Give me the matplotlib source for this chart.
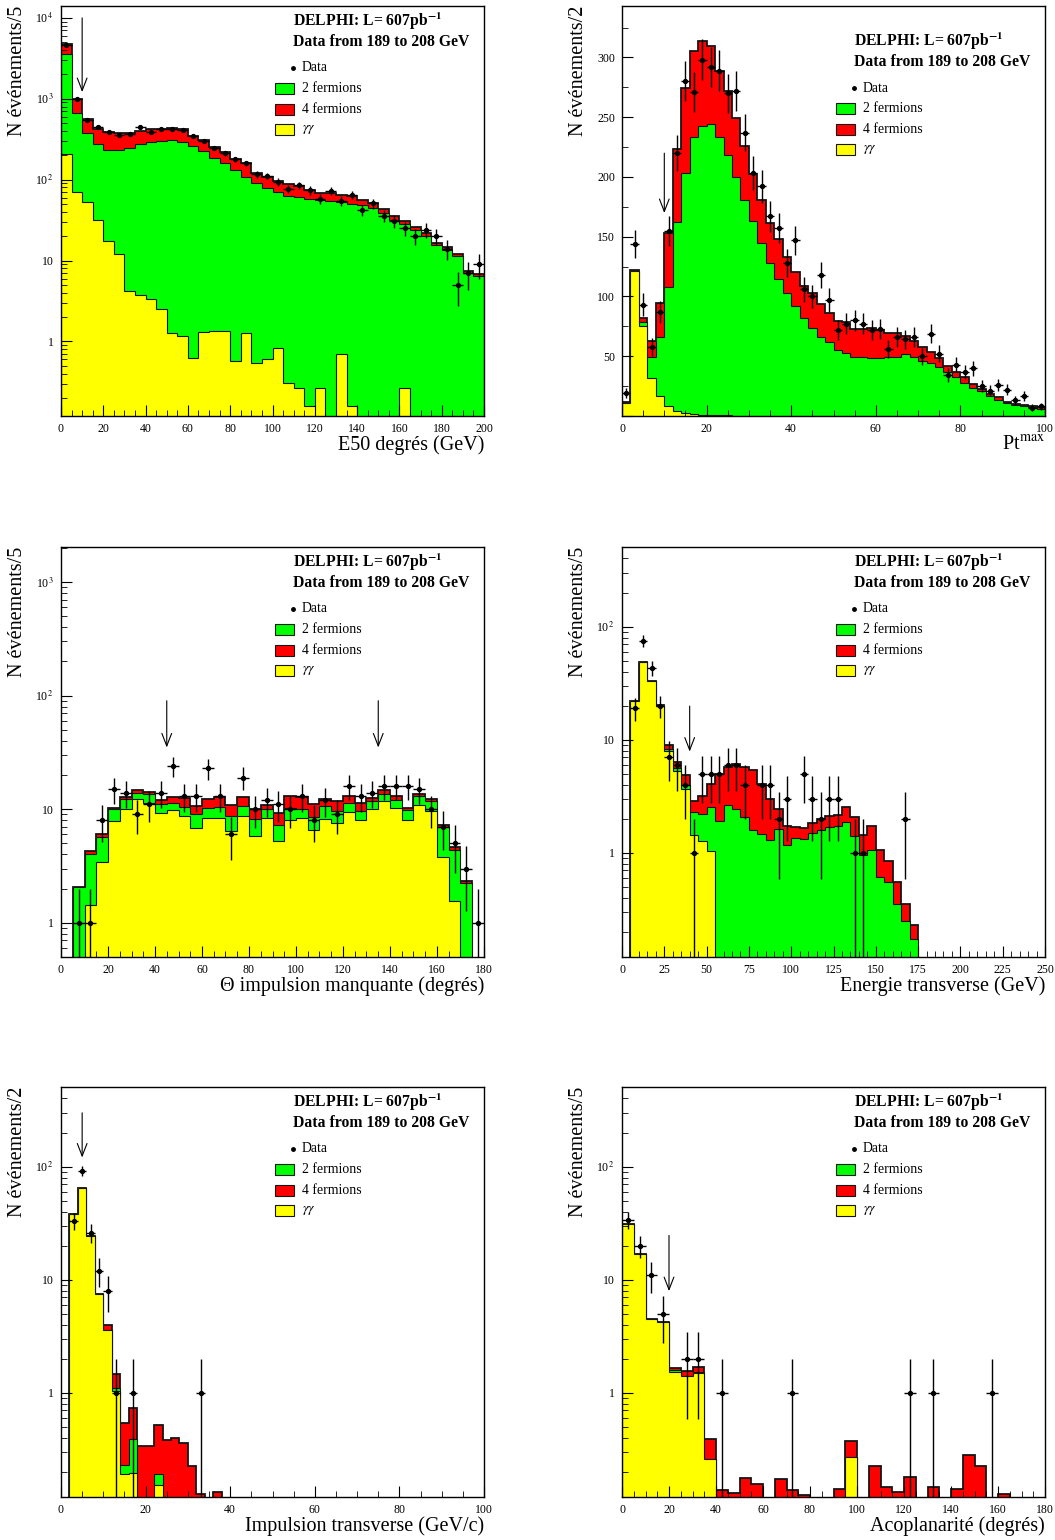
import numpy as np
import matplotlib
matplotlib.use("Agg")
import matplotlib.pyplot as plt
from matplotlib.patches import Rectangle
from matplotlib.ticker import MultipleLocator, LogLocator, FuncFormatter, NullFormatter

plt.rcParams["font.family"] = ["Liberation Serif", "DejaVu Serif"]
plt.rcParams["mathtext.fontset"] = "stix"

GREEN, RED, YELLOW = "#00ff00", "#ff0000", "#ffff00"

# --- E50 degres (bins of 5 GeV, 0-200) : cumulative levels yy, yy+2f, total
e50_yy = [205, 70, 53, 31.5, 17.3, 12.1, 4.2, 3.77, 3.33, 2.55, 1.27, 1.17, 0.634, 1.30, 1.33,
          1.34, 0.577, 1.27, 0.54, 0.605, 0.82, 0.306, 0.27, 0.158, 0.27, 0, 0.70, 0.158, 0, 0,
          0, 0, 0.27, 0, 0, 0, 0, 0, 0, 0]
e50_2f = [3525, 671, 373, 273, 230, 230, 244, 273, 289, 303, 309, 294, 260, 226, 186, 161, 131,
          109, 90, 79.5, 70, 63, 61.7, 57, 56, 54.5, 53, 50.5, 48.7, 44.3, 38.4, 31.8, 28.1, 23.9,
          20.2, 15.6, 13.5, 11.4, 7.0, 6.5]
e50_tot = [4700, 980, 566, 418, 391, 373, 373, 399, 418, 426, 430, 418, 349, 309, 255, 220, 182,
           159, 122, 109, 97, 88, 83.5, 74.5, 69, 67.8, 64.6, 62.8, 56, 52, 43, 35.6, 31.2, 25.8,
           21.7, 16.7, 14.6, 12.1, 7.5, 6.8]
e50_data = [4600, 1000, 550, 450, 384, 356, 366, 443, 391, 418, 418, 409, 345, 300, 248, 211,
            178, 159, 117, 111, 94, 77, 85, 74, 58, 73, 55, 65, 42, 51, 36, 31, 25, 20, 24, 20,
            14, 5, 7, 9]

# --- Pt max (bins of 2, 0-100)
pt_yy = [11, 121.5, 75.3, 31.6, 17.1, 8, 3.8, 2.4, 1.6, 1.0, 0.8, 0.6, 0.5, 0.4, 0.3, 0.3, 0.2,
         0.2, 0.2, 0.1] + [0] * 30
pt_2f = [11, 121.5, 79, 49.7, 65.9, 107.6, 162, 203, 233.4, 242.3, 244, 233.4, 218, 200, 181,
         163, 145, 128, 115, 103, 92, 81.7, 73.4, 66.4, 61.7, 54.8, 53, 49.7, 49.7, 48.9, 48.9,
         49.2, 49.7, 52, 49.2, 46.4, 44.2, 40.6, 36.4, 32.5, 27.5, 23.3, 20.5, 16.9, 13.6, 10.8,
         9.4, 8.6, 7.2, 6]
pt_tot = [11.3, 122, 81.8, 62.5, 94.3, 153, 223, 274.5, 305.4, 313.5, 309.6, 289, 272.3, 249.5,
          225.9, 202.2, 180.5, 161.6, 147.7, 132.7, 120.8, 109, 102.6, 93.4, 85.9, 79.8, 79,
          72.6, 72.8, 73.4, 72, 69.8, 69.8, 67, 62.8, 58, 53.9, 48.4, 42, 37.2, 32.5, 27, 22.5,
          18.5, 15.5, 12.1, 10.2, 9.4, 8, 7.4]
pt_data = [19, 144, 93, 58, 87, 155, 220, 280, 271, 298, 292, 289, 270, 272, 237, 203, 192, 167,
           157, 128, 147, 106, 100, 118, 97, 72, 77, 80, 77, 72, 73, 56, 66, 64, 66, 50, 69, 52,
           34, 43, 37, 40, 25, 21, 26, 22, 13, 17, 7, 8]

# --- Theta impulsion manquante (bins of 5 deg, 0-180)
th_yy = [0, 0, 1.43, 3.44, 7.9, 10.0, 12.2, 11.4, 9.3, 9.9, 8.7, 6.8, 8.4, 8.3, 6.4, 8.7, 5.8,
         8.4, 5.3, 8.1, 8.3, 6.6, 8.2, 7.6, 9.5, 8.1, 10.0, 11.8, 10.3, 8.1, 10.9, 9.6, 3.8, 1.56,
         0, 0]
th_2f = [0, 2.05, 4.0, 5.7, 10.0, 12.2, 14.0, 13.5, 11.0, 11.3, 10.5, 9.0, 10.3, 10.5, 8.7, 10.6,
         8.2, 10.0, 7.3, 10.3, 10.0, 8.5, 10.6, 9.6, 11.3, 9.6, 11.8, 13.5, 12.0, 9.8, 13.1, 11.8,
         6.9, 4.4, 2.26, 0]
th_tot = [0, 2.05, 4.3, 6.0, 10.3, 12.8, 14.7, 14.2, 12.0, 12.8, 12.5, 10.7, 12.2, 12.8, 10.8,
          12.8, 10.0, 10.8, 9.3, 13.1, 12.8, 11.2, 12.4, 11.7, 13.1, 11.4, 12.6, 14.7, 13.1, 10.2,
          13.5, 12.4, 7.2, 4.6, 2.34, 0]
th_data = [0, 1, 1, 8, 15, 14, 9, 11, 14, 24, 13, 13, 23, 13, 6, 19, 10, 12, 11, 10, 13, 8, 12,
           9, 16, 13, 14, 16, 16, 16, 15, 10, 7, 5, 3, 1]

# --- Energie transverse (bins of 5 GeV, 0-250)
et_yy = [0, 21.8, 49, 33, 19.7, 7.9, 5.3, 3.7, 1.44, 1.28, 1.03] + [0] * 39
et_2f = [0, 21.8, 49, 33, 19.9, 8.3, 5.6, 4.0, 2.28, 2.2, 2.53, 1.93, 2.67, 2.44, 2.06, 1.6,
         1.47, 1.3, 1.63, 1.18, 1.35, 1.33, 1.49, 1.6, 1.68, 1.71, 1.87, 1.42, 0.95, 1.07, 0.61,
         0.55, 0.35, 0.248, 0.174] + [0] * 15
et_tot = [0, 21.8, 49, 33, 20.2, 9.0, 6.3, 4.9, 2.9, 3.2, 4.06, 5.0, 5.7, 6.1, 5.7, 5.4, 4.06,
          3.0, 2.44, 1.73, 1.68, 1.66, 1.83, 2.0, 2.13, 2.16, 2.56, 2.06, 1.45, 1.74, 1.05, 0.84,
          0.55, 0.35, 0.229] + [0] * 15
et_data = [0, 19, 75, 43, 20, 7, 6, 4, 1, 5, 5, 5, 6, 6, 4, 0, 4, 4, 2, 3, 0, 5, 3, 2, 3, 3, 0,
           1, 1, 0, 0, 0, 0, 2] + [0] * 16

# --- Impulsion transverse (bins of 2 GeV/c, 0-100)
ip_yy = [0, 37.7, 65, 24.3, 7.5, 3.6, 1.03, 0.193, 0.194, 0, 0, 0.154] + [0] * 38
ip_2f = [0, 37.7, 65, 24.3, 7.5, 3.6, 1.1, 0.23, 0.39, 0, 0, 0.19] + [0] * 38
ip_tot = [0, 37.7, 65, 24.3, 7.5, 4.0, 1.46, 0.54, 0.73, 0.336, 0.336, 0.52, 0.385, 0.40, 0.36,
          0.224, 0.128, 0, 0.133] + [0] * 31
ip_data = [0, 33, 92, 26, 12, 8, 1, 0, 1, 0, 0, 0, 0, 0, 0, 0, 1] + [0] * 33

# --- Acoplanarite (bins of 5 deg, 0-180)
ac_yy = [31, 16.8, 4.5, 4.23, 1.52, 1.40, 1.50, 0.258, 0, 0, 0, 0, 0, 0, 0, 0, 0, 0, 0, 0.27,
         0, 0, 0, 0, 0, 0, 0, 0, 0, 0, 0, 0, 0, 0, 0, 0]
ac_2f = [31, 16.8, 4.5, 4.23, 1.58, 1.42, 1.52, 0.258, 0, 0, 0, 0, 0, 0, 0, 0, 0, 0, 0, 0.27,
         0, 0, 0, 0, 0, 0, 0, 0, 0, 0, 0, 0, 0, 0, 0, 0]
ac_tot = [31, 16.8, 4.5, 4.23, 1.66, 1.57, 1.68, 0.393, 0.138, 0.131, 0.178, 0.155, 0, 0.174,
          0.138, 0.125, 0, 0, 0.142, 0.375, 0, 0.225, 0.148, 0.133, 0.181, 0, 0.148, 0, 0.142,
          0.28, 0.225, 0, 0.127, 0, 0, 0]
ac_data = [34, 20, 11, 5, 0, 2, 2, 0, 1, 0, 0, 0, 0, 0, 1, 0, 0, 0, 0, 0, 0, 0, 0, 0, 1, 0, 1,
           0, 0, 0, 0, 1, 0, 0, 0, 0]

LEGEND_LABELS = ["2 fermions", "4 fermions", r"$\gamma\gamma$"]


def log_fmt(v, _):
    if v < 0.5:
        return ""
    if abs(v - 1) < 1e-6:
        return "1"
    if abs(v - 10) < 1e-6:
        return "10"
    return r"10$^{\,%d}$" % int(round(np.log10(v)))


def panel(ax, xmax, width, yy, y2f, tot, data, xlabel, ylabel, cuts, cut_y,
          ylim, log=True, xmaj=20, xmin=5, leg_dy=0.0):
    edges = np.arange(0, xmax + width / 2, width)
    base = 1e-4 if log else 0.0
    for vals, col, lw in ((tot, RED, 1.3), (y2f, GREEN, 0.8), (yy, YELLOW, 0.8)):
        v = np.asarray(vals, float)
        v = np.where(v > 0, v, base)
        ax.stairs(v, edges, baseline=base, fill=True, facecolor=col, edgecolor="none")
        ax.stairs(v, edges, baseline=base, color="#151515", lw=lw)

    d = np.asarray(data, float)
    c = edges[:-1] + width / 2
    m = d > 0
    err = np.sqrt(d[m])
    lo = np.minimum(err, d[m] * 0.9999) if log else err
    ax.errorbar(c[m], d[m], xerr=width / 2, yerr=[lo, err], fmt="o", ms=2.8, color="black",
                elinewidth=1.0, capsize=0, zorder=5)

    if log:
        ax.set_yscale("log")
        ax.yaxis.set_major_locator(LogLocator(base=10))
        ax.yaxis.set_minor_locator(LogLocator(base=10, subs=np.arange(2, 10)))
        ax.yaxis.set_minor_formatter(NullFormatter())
        ax.yaxis.set_major_formatter(FuncFormatter(log_fmt))
    else:
        ax.yaxis.set_major_locator(MultipleLocator(50))
        ax.yaxis.set_minor_locator(MultipleLocator(25))
        ax.yaxis.set_major_formatter(FuncFormatter(lambda v, _: "" if v <= 0 else "%d" % v))
    ax.set_xlim(0, xmax)
    ax.set_ylim(*ylim)
    ax.xaxis.set_major_locator(MultipleLocator(xmaj))
    ax.xaxis.set_minor_locator(MultipleLocator(xmin))
    ax.tick_params(which="both", direction="in", top=False, right=False, labelsize=8.5)
    ax.tick_params(which="major", length=8, pad=5)
    ax.tick_params(which="minor", length=4)
    for s in ax.spines.values():
        s.set_linewidth(1.0)

    ax.text(1.0, -0.072, xlabel, transform=ax.transAxes, ha="right", va="center", fontsize=14.5)
    ax.text(-0.102, 1.0, ylabel, transform=ax.transAxes, rotation=90, ha="center", va="top",
            fontsize=14.5)

    tr = ax.get_xaxis_transform()
    for x in cuts:
        ax.annotate("", xy=(x, cut_y[1]), xytext=(x, cut_y[0]), xycoords=tr, textcoords=tr,
                    arrowprops=dict(arrowstyle="->,head_length=0.9,head_width=0.35", lw=0.8,
                                    color="black", shrinkA=0, shrinkB=0))

    t = ax.transAxes
    ax.text(0.548, 0.962 - leg_dy, r"DELPHI: L= 607pb$^{\mathbf{-1}}$", transform=t,
            fontsize=11.3, fontweight="bold", va="center")
    ax.text(0.548, 0.913 - leg_dy, "Data from 189 to 208 GeV", transform=t, fontsize=11.3,
            fontweight="bold", va="center")
    ax.plot([0.549], [0.849 - leg_dy], "o", ms=2.5, color="black", transform=t)
    ax.text(0.570, 0.849 - leg_dy, "Data", transform=t, fontsize=9.9, va="center")
    for k, (col, lab) in enumerate(zip((GREEN, RED, YELLOW), LEGEND_LABELS)):
        yc = 0.799 - 0.0505 * k - leg_dy
        ax.add_patch(Rectangle((0.506, yc - 0.0135), 0.045, 0.027, transform=t,
                               facecolor=col, edgecolor="#151515", lw=0.8))
        ax.text(0.570, yc, lab, transform=t, fontsize=9.9, va="center")


fig = plt.figure(figsize=(10.55, 15.4), dpi=100)
W = 423 / 1055
H = 410 / 1540
cols = [61 / 1055, 622 / 1055]
rows = [1 - 416 / 1540, 1 - 957 / 1540, 1 - 1497 / 1540]
axs = [[fig.add_axes([cx, ry, W, H]) for cx in cols] for ry in rows]

panel(axs[0][0], 200, 5, e50_yy, e50_2f, e50_tot, e50_data, "E50 degrés (GeV)",
      "N événements/5", [10], (0.971, 0.79), (0.12, 1.4e4))
panel(axs[0][1], 100, 2, pt_yy, pt_2f, pt_tot, pt_data, r"Pt$^{\rm max}$",
      "N événements/2", [10], (0.641, 0.495), (0, 343), log=False, leg_dy=0.049)
panel(axs[1][0], 180, 5, th_yy, th_2f, th_tot, th_data, "Θ impulsion manquante (degrés)",
      "N événements/5", [45, 135], (0.625, 0.511), (0.5, 2030))
panel(axs[1][1], 250, 5, et_yy, et_2f, et_tot, et_data, "Energie transverse (GeV)",
      "N événements/5", [40], (0.612, 0.501), (0.12, 505), xmaj=25, xmin=5)
panel(axs[2][0], 100, 2, ip_yy, ip_2f, ip_tot, ip_data, "Impulsion transverse (GeV/c)",
      "N événements/2", [5], (0.937, 0.828), (0.12, 505))
panel(axs[2][1], 180, 5, ac_yy, ac_2f, ac_tot, ac_data, "Acoplanarité (degrés)",
      "N événements/5", [20], (0.638, 0.502), (0.12, 505))

fig.savefig("out.png", dpi=100)
